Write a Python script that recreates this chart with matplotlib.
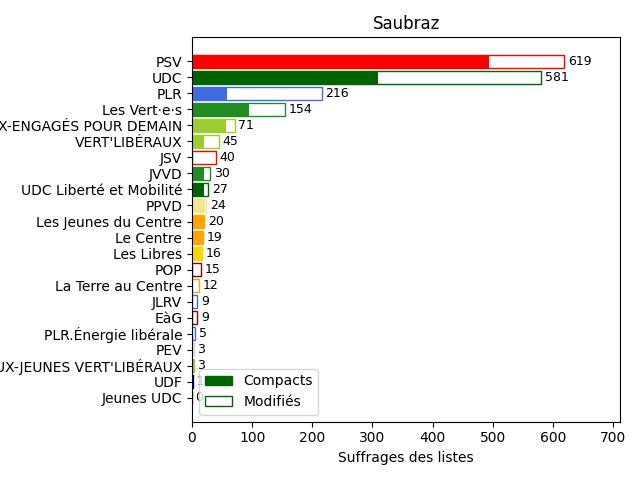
import matplotlib
matplotlib.use("Agg")
import matplotlib.pyplot as plt
import numpy as np

listes = ["PSV", "UDC", "PLR", "Les Vert·e·s", "VERT'LIBÉRAUX-ENGAGÉS POUR DEMAIN",
          "VERT'LIBÉRAUX", "JSV", "JVVD", "UDC Liberté et Mobilité", "PPVD",
          "Les Jeunes du Centre", "Le Centre", "Les Libres", "POP", "La Terre au Centre",
          "JLRV", "EàG", "PLR.Énergie libérale", "PEV",
          "VERT'LIBÉRAUX-JEUNES VERT'LIBÉRAUX", "UDF", "Jeunes UDC"]
totaux = [619, 581, 216, 154, 71, 45, 40, 30, 27, 24, 20, 19, 16, 15, 12, 9, 9, 5, 3, 3, 1, 0]
compacts = [494, 310, 58, 95, 57, 20, 0, 20, 20, 22, 20, 19, 16, 0, 0, 0, 0, 0, 0, 3, 1, 0]
couleurs = ["red", "darkgreen", "royalblue", "forestgreen", "yellowgreen", "yellowgreen",
            "red", "forestgreen", "darkgreen", "khaki", "orange", "orange", "gold",
            "darkred", "orange", "royalblue", "darkred", "royalblue", "lightgrey",
            "yellowgreen", "darkblue", "darkgreen"]

fig, ax = plt.subplots(figsize=(6.4, 4.8), dpi=100)
y = np.arange(len(listes))
ax.barh(y, totaux, color="white", edgecolor=couleurs)
ax.barh(y, compacts, color=couleurs)
for yi, t in zip(y, totaux):
    ax.text(t + 6, yi, str(t), va="center", fontsize=9)
ax.set_yticks(y)
ax.set_yticklabels(listes)
ax.invert_yaxis()
ax.set_xlim(0, 712)
ax.set_xlabel("Suffrages des listes")
ax.set_title("Saubraz")

from matplotlib.patches import Patch
ax.legend(handles=[Patch(facecolor="darkgreen", edgecolor="darkgreen"),
                   Patch(facecolor="white", edgecolor="darkgreen")],
          labels=["Compacts", "Modifiés"], loc="lower left")
fig.tight_layout()
fig.subplots_adjust(left=0.3)
fig.savefig("out.png")
